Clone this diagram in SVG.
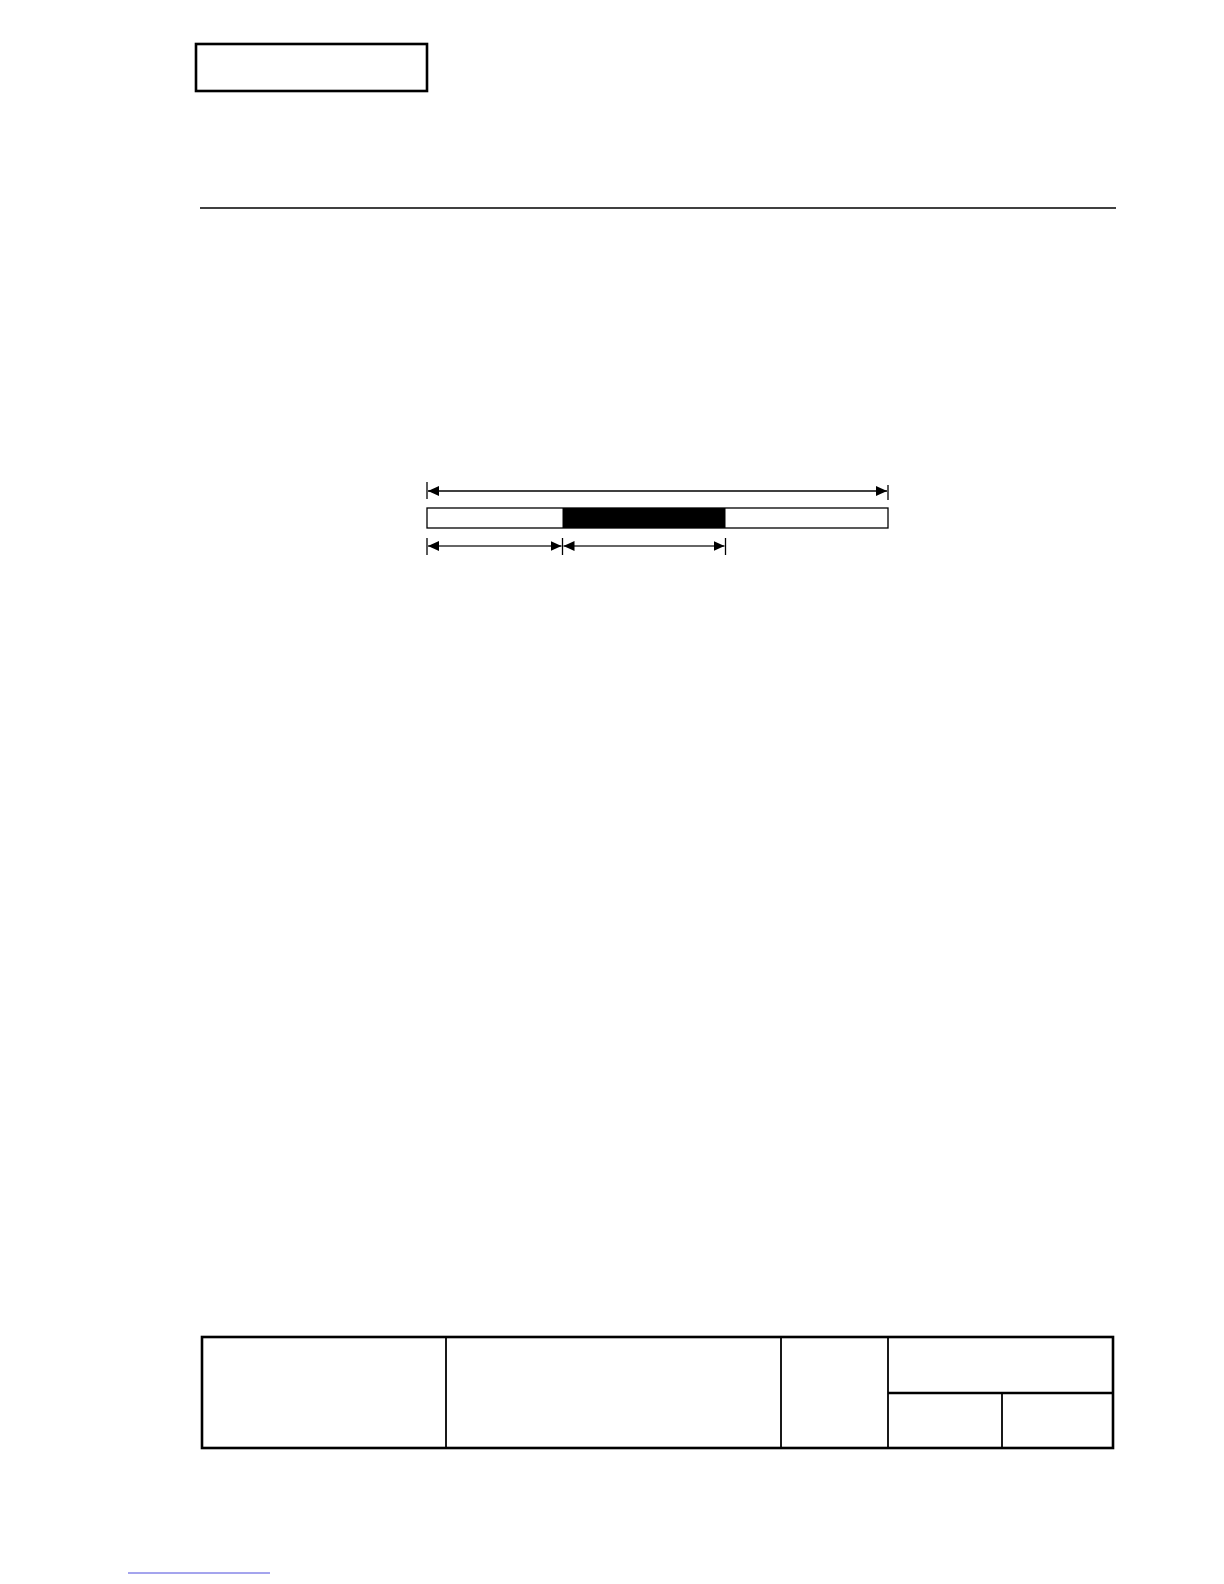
<svg xmlns="http://www.w3.org/2000/svg" width="1224" height="1584" viewBox="0 0 1224 1584">
<style>
.thick{fill:none;stroke:#000;stroke-width:2.6}
.thin{fill:none;stroke:#000;stroke-width:1.8}
.dim{fill:none;stroke:#000;stroke-width:1.3}
.dim2{fill:none;stroke:#333;stroke-width:1.3}
.tick{stroke:#000;stroke-width:1.3}
</style>
<defs>
<marker id="ah" markerUnits="userSpaceOnUse" markerWidth="13" markerHeight="11" refX="11" refY="5" orient="auto-start-reverse">
<path d="M0,0 L11,5 L0,10 z" fill="#000"/>
</marker>
</defs>
<rect width="1224" height="1584" fill="#fff"/>
<g id="header-box">
<rect x="196" y="44" width="231" height="47" class="thick" stroke-width="2.8"/>
</g>
<g id="rule">
<line x1="200" y1="208" x2="1116" y2="208" stroke="#000" stroke-width="1.5"/>
</g>
<g id="bar">
<rect x="427" y="508" width="461" height="20" fill="#fff" stroke="#000" stroke-width="1.3"/>
<rect x="562.5" y="508" width="163" height="20" fill="#000"/>
</g>
<g id="connectors">
<line class="tick" x1="427" y1="482" x2="427" y2="499"/>
<line class="tick" x1="888" y1="485" x2="888" y2="500"/>
<line class="dim" x1="428" y1="491" x2="887" y2="491" marker-start="url(#ah)" marker-end="url(#ah)"/>
<line class="tick" x1="427" y1="538" x2="427" y2="555"/>
<line class="tick" x1="562.5" y1="538" x2="562.5" y2="555"/>
<line class="tick" x1="725.5" y1="538" x2="725.5" y2="555"/>
<line class="dim2" x1="428" y1="546" x2="561.5" y2="546" marker-start="url(#ah)" marker-end="url(#ah)"/>
<line class="dim2" x1="563.5" y1="546" x2="724.5" y2="546" marker-start="url(#ah)" marker-end="url(#ah)"/>
</g>
<g id="title-block">
<rect x="202" y="1337" width="911" height="111" class="thick"/>
<line class="thin" x1="446" y1="1337" x2="446" y2="1448"/>
<line class="thin" x1="781" y1="1337" x2="781" y2="1448"/>
<line class="thin" x1="888" y1="1337" x2="888" y2="1448"/>
<line class="thick" x1="888" y1="1393" x2="1113" y2="1393"/>
<line class="thin" x1="1002" y1="1393" x2="1002" y2="1448"/>
</g>
<g id="footer-link">
<line x1="128" y1="1573" x2="270" y2="1573" stroke="#4a4adc" stroke-width="1"/>
</g>
</svg>
